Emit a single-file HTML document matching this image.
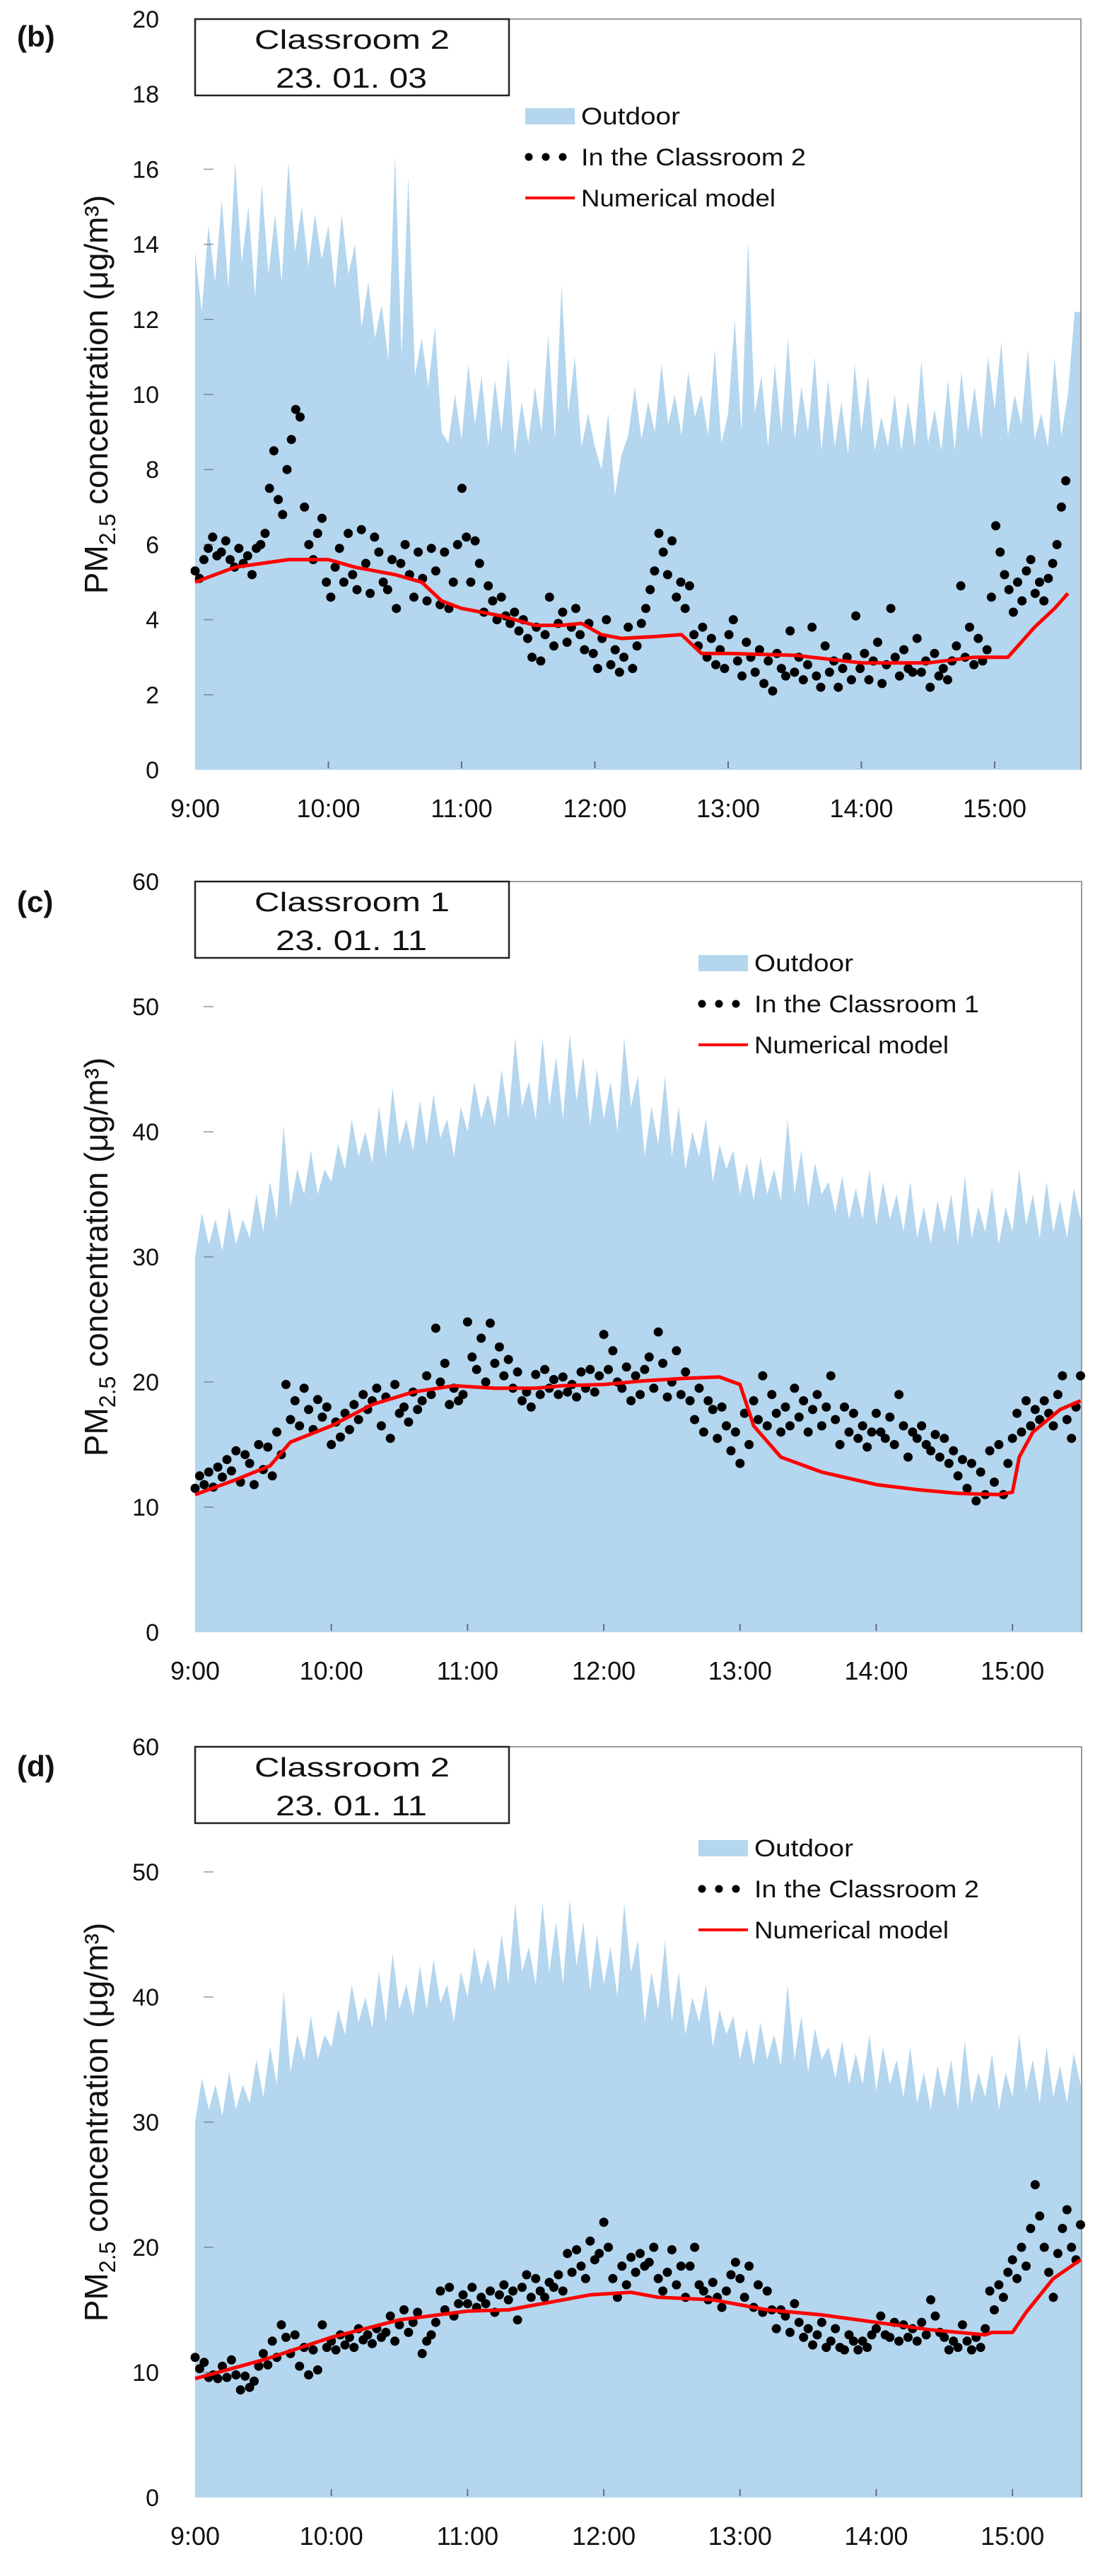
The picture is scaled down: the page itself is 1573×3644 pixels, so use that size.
<!DOCTYPE html>
<html><head><meta charset="utf-8"><style>
html,body{margin:0;padding:0;background:#fff;}
svg{display:block;font-family:"Liberation Sans",Arial,sans-serif;}
</style></head><body>
<svg id="fig" xmlns="http://www.w3.org/2000/svg" width="1573" height="3644" viewBox="0 0 1573 3644"></svg>
<script>
// ---------- DATA ----------
const xTickLabels = ["9:00","10:00","11:00","12:00","13:00","14:00","15:00"];
const yTicksB = [0,2,4,6,8,10,12,14,16,18,20];
const yTicksCD = [0,10,20,30,40,50,60];

// Panel (b): outdoor, 3-min step from 9:00
const outdoorB = [13.8,12.2,14.5,13.0,15.2,12.8,16.2,13.5,15.0,12.6,
15.6,13.2,14.8,13.0,16.2,13.8,15.0,13.4,14.8,13.6,
14.5,12.8,14.8,13.2,14.0,11.8,13.0,11.5,12.4,10.9,
16.4,11.0,15.8,10.5,11.5,10.2,11.8,9.0,8.7,10.0,
8.8,10.8,9.2,10.5,8.6,10.4,9.0,11.0,8.4,9.8,
8.7,10.2,9.0,11.6,8.8,12.9,9.5,11.0,8.6,9.5,
8.6,8.0,9.5,7.3,8.4,8.9,10.2,8.8,9.8,9.0,
10.8,9.2,10.0,8.9,10.6,9.4,10.0,8.9,11.2,8.7,
9.5,12.0,9.0,14.1,9.5,10.5,8.6,10.8,9.0,11.5,
8.8,10.2,9.0,11.0,8.5,10.4,8.6,9.8,8.4,10.8,
9.0,10.5,8.5,9.4,8.6,10.0,8.5,9.8,8.6,10.9,
8.7,9.6,8.5,10.4,8.5,10.6,9.0,10.2,8.8,11.0,
9.6,11.4,8.9,10.0,9.2,11.2,8.8,9.5,8.6,11.0,8.9,10.0,12.2];
// Panel (b): indoor classroom 2, ~2-min step
const indoorB = [5.3,5.1,5.6,5.9,6.2,5.7,5.8,6.1,5.6,5.4,5.9,5.5,5.7,5.2,5.9,6.0,
6.3,7.5,8.5,7.2,6.8,8.0,8.8,9.6,9.4,7.0,
6.0,5.6,6.3,6.7,5.0,
4.6,5.4,5.9,5.0,6.3,5.2,4.8,6.4,5.5,4.7,6.2,5.8,5.0,4.8,5.6,
4.3,5.5,6.0,5.2,4.6,5.8,5.1,4.5,5.9,5.3,
4.4,5.8,4.3,5.0,6.0,7.5,6.2,5.0,6.1,5.5,
4.2,4.9,4.5,4.0,4.6,4.1,3.9,4.2,3.7,4.0,
3.5,3.0,3.8,2.9,3.6,4.6,3.3,3.9,4.2,3.4,3.8,4.3,3.6,3.2,3.9,
3.1,2.7,3.5,4.0,2.8,3.2,2.6,3.0,3.8,2.7,
3.3,3.9,4.3,4.8,5.3,6.3,5.8,5.2,6.1,4.6,
5.0,4.3,4.9,3.6,3.3,3.8,3.0,3.5,2.8,3.2,
2.7,3.6,4.0,2.9,2.5,3.4,3.0,2.6,3.2,2.3,2.9,2.1,3.1,2.7,2.5,
3.7,2.6,3.0,2.4,2.8,3.8,2.5,2.2,3.3,2.6,2.9,2.2,2.7,3.0,2.4,
4.1,2.7,3.1,2.4,2.9,3.4,2.3,2.8,4.3,3.0,2.5,3.2,2.7,2.6,3.5,
2.6,2.9,2.2,3.1,2.5,2.7,2.4,2.9,3.3,4.9,
3.0,3.8,2.8,3.5,2.9,3.2,4.6,6.5,5.8,5.2,
4.8,4.2,5.0,4.5,5.3,5.6,4.7,5.0,4.5,5.1,
5.5,6.0,7.0,7.7];
const modelBHours = [0,0.3,0.5,0.7,1.0,1.2,1.5,1.7,1.85,2.0,2.3,2.55,2.75,2.9,3.05,3.2,3.45,3.65,3.8,4.0,4.5,5.0,5.5,5.85,6.1,6.3,6.45,6.55];
const modelBValues = [5.0,5.4,5.5,5.6,5.6,5.4,5.2,5.0,4.5,4.3,4.1,3.85,3.85,3.9,3.6,3.5,3.55,3.6,3.1,3.1,3.05,2.85,2.85,3.0,3.0,3.8,4.3,4.7];

// Jan 11 outdoor (shared by panels c and d), 3-min step
const outdoorJan11 = [30,33.5,31,33,30.5,34,31,33,31.5,35,
32,36,33,40.5,34,37,35,38.5,35,37,
36,39,37,41,38,40,37.5,42,38,43.5,
39,41,38.5,42.5,39,43,39.5,41,38,42,
40,44,41,43,40.5,45,41,47.5,42,44,
41,47.5,42,46,41,47.8,42.5,46,40.5,45,
41,44,40,47.5,42,44.5,38,42,39,44.5,
38,42,37,40,38,41,36,39,37,38.5,
35,37.5,34.5,38,35,37,34.5,41,35,38.5,
34,37.5,35,36,33.5,36.5,33,35.5,33,37,
32.5,36,33,35,32,36,31.5,34,31,34.5,
32,35,31,36.5,31.5,34,32,35.5,31,34,
32,37,32.5,35,31.5,36,32,34.5,31.5,35.5,33];
// Panel (c): indoor classroom 1, 2-min step
const indoorC = [11.5,12.5,11.8,12.8,11.6,13.2,12.4,13.8,12.9,14.5,
12.0,14.2,13.5,11.8,15.0,13.0,14.8,12.5,16.0,14.2,
19.8,17.0,18.5,16.5,19.5,17.8,16.2,18.6,17.2,18.0,
15.0,16.8,15.6,17.5,16.2,18.2,17.0,19.0,17.8,18.5,
19.5,16.5,18.8,15.5,19.8,17.5,18.0,16.8,19.2,17.8,
18.5,20.5,19.0,24.3,20.0,21.5,18.2,19.5,18.5,19.0,
24.8,22.0,21.0,23.5,20.0,24.7,21.5,22.8,20.5,21.8,
19.5,20.8,18.5,19.2,18.0,20.6,19.0,21.0,19.5,20.2,
19.0,20.4,19.2,19.8,18.8,20.8,19.5,21.0,19.2,20.5,
23.8,21.0,22.5,20.0,19.5,21.2,18.5,20.5,19.0,21.0,
22.0,19.5,24.0,21.5,18.8,20.0,22.5,19.0,20.8,18.5,
17.0,19.5,16.0,18.5,17.8,15.5,18.0,16.5,14.5,16.0,
13.5,17.5,15.0,18.5,17.0,20.5,16.5,19.0,17.5,16.0,
18.0,16.5,19.5,17.2,18.5,16.0,17.8,19.0,16.5,18.0,
20.5,17.0,15.0,18.0,16.0,17.5,15.5,16.5,14.8,16.0,
17.5,16.0,15.5,17.2,15.0,19.0,16.5,14.0,16.0,15.5,
16.5,15.0,14.5,15.8,14.0,15.5,13.5,14.5,12.5,13.8,
11.5,13.5,10.5,12.8,11.0,14.5,12.0,15.0,11.0,13.5,
15.5,17.5,16.0,18.5,16.5,17.8,17.0,18.5,17.5,16.5,
19.0,20.5,17.0,15.5,18.0,20.5];
const modelCHours = [0,0.3,0.55,0.7,1.0,1.3,1.6,1.9,2.2,2.5,2.7,3.0,3.3,3.6,3.85,4.0,4.1,4.3,4.6,5.0,5.3,5.6,5.9,6.0,6.05,6.15,6.35,6.5];
const modelCValues = [11,12.2,13.3,15.2,16.5,18.2,19.2,19.7,19.5,19.5,19.7,19.8,20.1,20.3,20.4,19.8,16.5,14,12.8,11.8,11.4,11.1,11.0,11.2,14.0,16.0,17.8,18.5];
// Panel (d): indoor classroom 2, 2-min step
const indoorD = [11.2,10.3,10.8,9.6,9.8,9.5,10.5,9.6,11.0,9.8,
8.6,9.7,8.8,9.3,10.5,11.5,10.6,12.5,11.2,13.8,
12.8,11.5,13.0,10.5,12.0,9.8,11.8,10.2,13.8,12.0,
12.5,11.8,13.0,12.2,12.8,12.0,13.5,12.6,13.0,12.3,
13.5,12.8,13.2,14.5,12.5,13.8,15.0,13.2,14.0,14.8,
11.5,12.5,13.0,14.0,16.5,15.0,16.8,14.5,15.5,16.2,
15.5,16.8,15.2,16.0,15.5,16.5,14.8,16.2,17.0,15.8,
16.5,14.2,16.8,17.8,16.0,17.5,16.5,16.0,17.2,16.8,
17.8,16.5,19.5,18.0,19.8,18.5,17.5,20.5,19.0,19.5,
22.0,20.0,17.5,16.0,18.5,17.0,19.2,18.0,19.5,18.5,
18.8,20.0,17.5,16.5,18.0,19.8,17.0,18.5,16.0,18.5,
20.0,17.0,16.5,15.8,17.2,16.0,15.2,16.5,17.8,18.8,
17.5,16.0,18.5,15.2,17.0,14.8,16.5,15.0,13.5,15.0,
14.5,13.2,15.5,14.0,12.8,13.5,12.2,13.0,14.0,12.0,
12.5,13.5,12.0,11.8,13.0,12.5,11.8,12.5,12.0,13.0,
13.5,14.5,13.0,12.8,14.0,12.5,13.8,12.8,13.5,12.5,
14.0,13.0,15.8,14.5,13.2,12.8,11.8,12.5,12.0,13.8,
12.5,11.8,12.8,12.0,13.5,16.5,15.0,17.0,16.0,18.0,
19.0,17.5,20.0,18.5,21.5,25.0,22.5,20.0,18.0,16.0,
19.5,21.5,23.0,20.0,19.0,21.8];
const modelDHours = [0,0.5,1.0,1.5,2.0,2.3,2.6,2.9,3.2,3.4,3.8,4.2,4.6,5.0,5.4,5.7,5.8,5.85,6.0,6.1,6.3,6.5];
const modelDValues = [9.5,11,12.8,14.2,14.9,15.0,15.6,16.2,16.4,16.0,15.8,15.0,14.6,14.0,13.4,13.1,13.0,13.2,13.2,14.8,17.5,19.0];

// ---------- DRAW ----------
const NS = "http://www.w3.org/2000/svg";
const svg = document.getElementById('fig');
function mk(tag, attrs, parent){
  const e = document.createElementNS(NS, tag);
  for (const k in attrs) e.setAttribute(k, attrs[k]);
  (parent||svg).appendChild(e);
  return e;
}
const FILL = "#b4d6ee";

function panel(cfg){
  const g = mk('g', {});
  
  
  const L = 276, R = cfg.right, T = cfg.top, B = cfg.bottom;
  const hourPx = cfg.hourPx;
  const xs = h => L + h * hourPx;
  const ys = v => B - (v / cfg.ymax) * (B - T);
  const maxH = (R - L) / hourPx;

  let d = `M${L},${B}`;
  cfg.outdoor.forEach((v, i) => {
    const h = Math.min(i * 3 / 60, maxH);
    d += ` L${xs(h).toFixed(1)},${ys(v).toFixed(1)}`;
  });
  d += ` L${R},${ys(cfg.outdoor[cfg.outdoor.length-1]).toFixed(1)} L${R},${B} Z`;
  const area = mk('path', {d: d, fill: FILL, stroke: 'none'}, g);
  
  

  const fr = mk('path', {d: `M${L},${T} L${R},${T} L${R},${B}`, fill: 'none', stroke: '#9a9a9a', 'stroke-width': 2}, g);
  
  

  cfg.yticks.forEach(v => {
    const y = ys(v);
    if (v > 0 && v < cfg.ymax) mk('line', {x1: L + 12, x2: L + 26, y1: y, y2: y, stroke: '#556', 'stroke-width': 1.5, opacity: 0.6}, g);
    const t = mk('text', {x: 225, y: y + 12, 'text-anchor': 'end', 'font-size': 34, fill: '#111'}, g);
    t.textContent = v;
    
    
  });
  xTickLabels.forEach((lab, i) => {
    const x = xs(i);
    if (i > 0) mk('line', {x1: x, x2: x, y1: B - 12, y2: B - 2, stroke: '#445', 'stroke-width': 2, opacity: 0.7}, g);
    const t = mk('text', {x: x, y: cfg.xlabY, 'text-anchor': 'middle', 'font-size': 36, fill: '#111'}, g);
    t.textContent = lab;
    
    
  });

  cfg.indoor.forEach((v, i) => {
    const h = i * cfg.step / 60;
    if (h > maxH) return;
    const c = mk('circle', {cx: xs(h).toFixed(1), cy: ys(v).toFixed(1), r: 6.5, fill: '#000'}, g);
    
    
  });

  const pts = cfg.mh.map((h, i) => `${xs(h).toFixed(1)},${ys(cfg.mv[i]).toFixed(1)}`).join(' ');
  const pl = mk('polyline', {points: pts, fill: 'none', stroke: '#ff0000', 'stroke-width': 5, 'stroke-linejoin': 'round'}, g);
  
  

  const pLab = mk('text', {x: 24, y: cfg.labelY, 'font-size': 42, 'font-weight': 'bold', fill: '#111'}, g);
  pLab.textContent = cfg.label;
  
  

  const bx = mk('rect', {x: 276, y: T, width: 444, height: 108, fill: '#fff', stroke: '#222', 'stroke-width': 2.5}, g);
  
  
  const t1 = mk('text', {x: 498, y: T + 42, 'text-anchor': 'middle', 'font-size': 38, textLength: 276, lengthAdjust: 'spacingAndGlyphs', fill: '#111'}, g);
  t1.textContent = cfg.room;
  
  
  const t2 = mk('text', {x: 497, y: T + 97, 'text-anchor': 'middle', 'font-size': 40, textLength: 214, lengthAdjust: 'spacingAndGlyphs', fill: '#111'}, g);
  t2.textContent = cfg.date;
  
  

  const cy = (T + B) / 2;
  const yt = mk('text', {x: 0, y: 0, 'text-anchor': 'middle', 'font-size': 46, fill: '#111', transform: `translate(152,${cy}) rotate(-90)`}, g);
  
  
  yt.innerHTML = 'PM<tspan font-size="32" dy="11">2.5</tspan><tspan dy="-11"> concentration (μg/m³)</tspan>';

  const lx = cfg.legX, ly = cfg.legY;
  const lg = mk('g', {}, g);
  
  
  mk('rect', {x: lx, y: ly - 11, width: 70, height: 23, fill: FILL}, lg);
  [0, 1, 2].forEach(k => mk('circle', {cx: lx + 5 + k * 24, cy: ly + 58, r: 5.5, fill: '#000'}, lg));
  mk('line', {x1: lx, x2: lx + 70, y1: ly + 116, y2: ly + 116, stroke: '#ff0000', 'stroke-width': 4}, lg);
  const names = ['Outdoor', cfg.indoorName, 'Numerical model'];
  const lens = [140, 318, 275];
  names.forEach((n, k) => {
    const t = mk('text', {x: lx + 79, y: ly + 12 + k * 58, 'font-size': 34, textLength: lens[k], lengthAdjust: 'spacingAndGlyphs', fill: '#111'}, lg);
    t.textContent = n;
    
    
  });
}

panel({id: 'panel-b', label: '(b)', labelY: 66, top: 27, bottom: 1089, right: 1529, hourPx: 188.5, ymax: 20,
  yticks: yTicksB, xlabY: 1156, outdoor: outdoorB, indoor: indoorB, step: 1.97, mh: modelBHours, mv: modelBValues,
  room: 'Classroom 2', date: '23. 01. 03', legX: 743, legY: 164, indoorName: 'In the Classroom 2'});
panel({id: 'panel-c', label: '(c)', labelY: 1290, top: 1247, bottom: 2309, right: 1530, hourPx: 192.7, ymax: 60,
  yticks: yTicksCD, xlabY: 2376, outdoor: outdoorJan11, indoor: indoorC, step: 2, mh: modelCHours, mv: modelCValues,
  room: 'Classroom 1', date: '23. 01. 11', legX: 988, legY: 1362, indoorName: 'In the Classroom 1'});
panel({id: 'panel-d', label: '(d)', labelY: 2513, top: 2471, bottom: 3533, right: 1530, hourPx: 192.7, ymax: 60,
  yticks: yTicksCD, xlabY: 3600, outdoor: outdoorJan11, indoor: indoorD, step: 2, mh: modelDHours, mv: modelDValues,
  room: 'Classroom 2', date: '23. 01. 11', legX: 988, legY: 2614, indoorName: 'In the Classroom 2'});
</script>
</body></html>
